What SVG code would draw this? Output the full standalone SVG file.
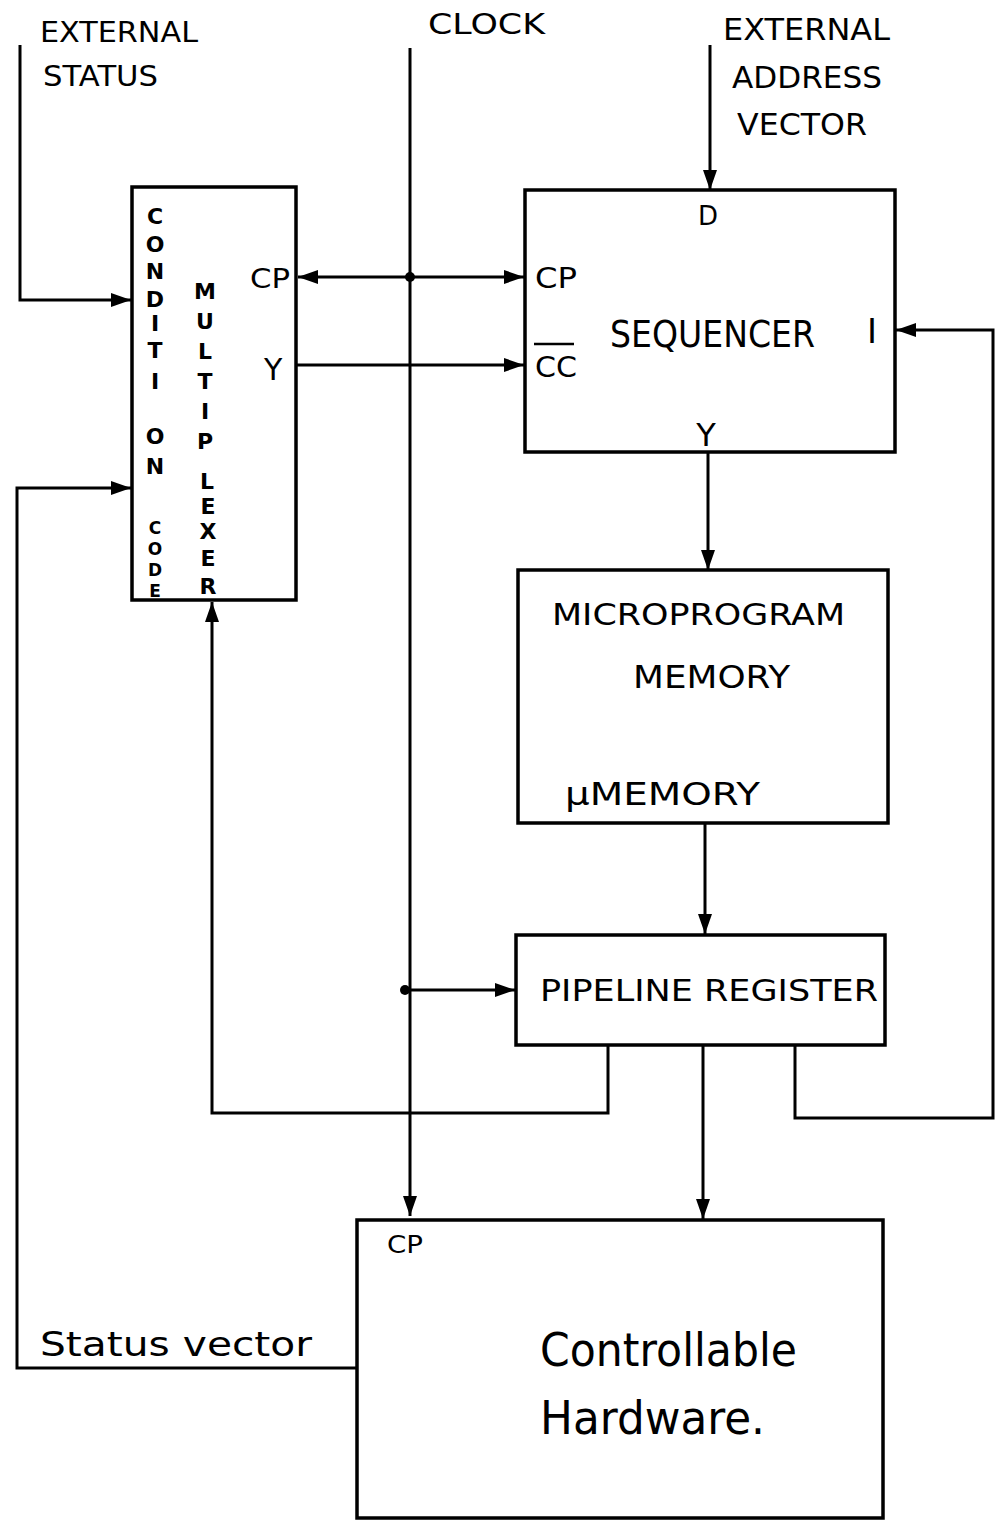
<svg xmlns="http://www.w3.org/2000/svg" width="997" height="1521" viewBox="0 0 997 1521">
<style>
.box{fill:none;stroke:#000;stroke-width:3.5}
.ln{fill:none;stroke:#000;stroke-width:3}
.t{font-family:"DejaVu Sans","Liberation Sans",sans-serif;fill:#000}
.v{font-family:"DejaVu Sans","Liberation Sans",sans-serif;font-size:22px;font-weight:bold;text-anchor:middle;fill:#000}
.vs{font-family:"DejaVu Sans","Liberation Sans",sans-serif;font-size:17px;font-weight:bold;text-anchor:middle;fill:#000}
</style>
<defs>
<marker id="a" viewBox="0 0 20 14" refX="20" refY="7" markerWidth="20" markerHeight="14" markerUnits="userSpaceOnUse" orient="auto-start-reverse">
<path d="M0,0 L20,7 L0,14 z" fill="#000"/>
</marker>
</defs>
<rect width="997" height="1521" fill="#fff"/>

<g id="labels">
<text class="t" x="40" y="42" font-size="28" textLength="158" lengthAdjust="spacingAndGlyphs">EXTERNAL</text>
<text class="t" x="43" y="86" font-size="28" textLength="115" lengthAdjust="spacingAndGlyphs">STATUS</text>
<text class="t" x="428" y="34" font-size="28" textLength="117" lengthAdjust="spacingAndGlyphs">CLOCK</text>
<text class="t" x="723" y="40" font-size="30" textLength="167" lengthAdjust="spacingAndGlyphs">EXTERNAL</text>
<text class="t" x="732" y="88" font-size="30" textLength="150" lengthAdjust="spacingAndGlyphs">ADDRESS</text>
<text class="t" x="737" y="135" font-size="30" textLength="130" lengthAdjust="spacingAndGlyphs">VECTOR</text>
</g>

<g id="connectors">
<polyline class="ln" points="20,45 20,300 131,300" marker-end="url(#a)"/>
<line class="ln" x1="410" y1="48" x2="410" y2="1216" marker-end="url(#a)"/>
<line class="ln" x1="298" y1="277" x2="524" y2="277" marker-start="url(#a)" marker-end="url(#a)"/>
<circle cx="410" cy="277" r="5" fill="#000"/>
<line class="ln" x1="296" y1="365" x2="524" y2="365" marker-end="url(#a)"/>
<line class="ln" x1="710" y1="45" x2="710" y2="190" marker-end="url(#a)"/>
<line class="ln" x1="708" y1="452" x2="708" y2="570" marker-end="url(#a)"/>
<line class="ln" x1="705" y1="823" x2="705" y2="934" marker-end="url(#a)"/>
<line class="ln" x1="405" y1="990" x2="515" y2="990" marker-end="url(#a)"/>
<circle cx="405" cy="990" r="5" fill="#000"/>
<polyline class="ln" points="608,1045 608,1113 212,1113 212,602" marker-end="url(#a)"/>
<line class="ln" x1="703" y1="1045" x2="703" y2="1219" marker-end="url(#a)"/>
<polyline class="ln" points="795,1045 795,1118 993,1118 993,330 896,330" marker-end="url(#a)"/>
<polyline class="ln" points="357,1368 17,1368 17,488 131,488" marker-end="url(#a)"/>
</g>

<g id="mux">
<rect class="box" x="132" y="187" width="164" height="413"/>
<text class="v" x="155" y="224">C</text>
<text class="v" x="155" y="252">O</text>
<text class="v" x="155" y="279">N</text>
<text class="v" x="155" y="307">D</text>
<text class="v" x="155" y="331">I</text>
<text class="v" x="155" y="358">T</text>
<text class="v" x="155" y="389">I</text>
<text class="v" x="155" y="444">O</text>
<text class="v" x="155" y="474">N</text>
<text class="vs" x="155" y="534">C</text>
<text class="vs" x="155" y="555">O</text>
<text class="vs" x="155" y="576">D</text>
<text class="vs" x="155" y="597">E</text>
<text class="v" x="205" y="299">M</text>
<text class="v" x="205" y="329">U</text>
<text class="v" x="205" y="359">L</text>
<text class="v" x="205" y="389">T</text>
<text class="v" x="205" y="419">I</text>
<text class="v" x="205" y="449">P</text>
<text class="v" x="207" y="489">L</text>
<text class="v" x="208" y="514">E</text>
<text class="v" x="208" y="539">X</text>
<text class="v" x="208" y="566">E</text>
<text class="v" x="208" y="594">R</text>
<text class="t" x="250" y="288" font-size="26" textLength="40" lengthAdjust="spacingAndGlyphs">CP</text>
<text class="t" x="264" y="380" font-size="30">Y</text>
</g>

<g id="sequencer">
<rect class="box" x="525" y="190" width="370" height="262"/>
<text class="t" x="708" y="225" font-size="26" text-anchor="middle">D</text>
<text class="t" x="535" y="288" font-size="28" textLength="42" lengthAdjust="spacingAndGlyphs">CP</text>
<line x1="534" y1="344" x2="574" y2="344" stroke="#000" stroke-width="2.5"/>
<text class="t" x="535" y="377" font-size="28" textLength="42" lengthAdjust="spacingAndGlyphs">CC</text>
<text class="t" x="610" y="347" font-size="38" textLength="205" lengthAdjust="spacingAndGlyphs">SEQUENCER</text>
<text class="t" x="872" y="343" font-size="34" text-anchor="middle">I</text>
<text class="t" x="706" y="446" font-size="32" text-anchor="middle">Y</text>
</g>

<g id="memory">
<rect class="box" x="518" y="570" width="370" height="253"/>
<text class="t" x="552" y="625" font-size="30" textLength="293" lengthAdjust="spacingAndGlyphs">MICROPROGRAM</text>
<text class="t" x="633" y="688" font-size="32" textLength="157" lengthAdjust="spacingAndGlyphs">MEMORY</text>
<text class="t" x="565" y="805" font-size="32" textLength="195" lengthAdjust="spacingAndGlyphs">μMEMORY</text>
</g>

<g id="pipeline">
<rect class="box" x="516" y="935" width="369" height="110"/>
<text class="t" x="540" y="1001" font-size="30" textLength="338" lengthAdjust="spacingAndGlyphs">PIPELINE  REGISTER</text>
</g>

<g id="hardware">
<rect class="box" x="357" y="1220" width="526" height="298"/>
<text class="t" x="387" y="1253" font-size="24" textLength="36" lengthAdjust="spacingAndGlyphs">CP</text>
<text class="t" x="40" y="1356" font-size="34" textLength="272" lengthAdjust="spacingAndGlyphs">Status  vector</text>
<text class="t" x="540" y="1366" font-size="46" textLength="257" lengthAdjust="spacingAndGlyphs">Controllable</text>
<text class="t" x="540" y="1434" font-size="46" textLength="225" lengthAdjust="spacingAndGlyphs">Hardware.</text>
</g>
</svg>
